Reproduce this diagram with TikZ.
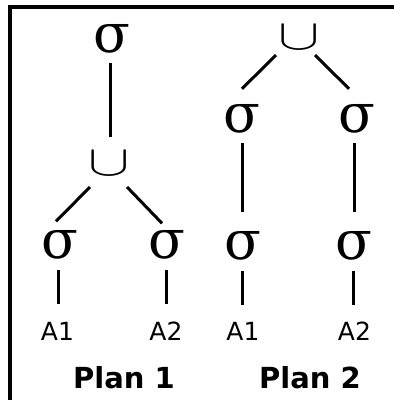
\documentclass[tikz,border=0pt]{standalone}
\usepackage{fontspec}
\usepackage{graphicx}
\setmainfont{DejaVu Sans}
\newfontfamily\symfont{DejaVu Serif}
\usetikzlibrary{calc}
\begin{document}
\begin{tikzpicture}[x=1pt,y=-1pt,
  op/.style={inner sep=0pt, font=\symfont\fontsize{54}{54}\selectfont, text height=28pt, text depth=0pt},
  cupop/.style={inner sep=0pt},
  rel/.style={inner sep=0pt, font=\fontsize{25}{25}\selectfont, text height=18.2pt, text depth=0pt},
  title/.style={inner sep=0pt, font=\bfseries\fontsize{29}{29}\selectfont, text height=21.1pt, text depth=0pt},
  link/.style={line width=3pt},
  frame/.style={line width=3.5pt}]
\useasboundingbox (0,0) rectangle (394,400);
\fill[white] (0,0) rectangle (394,400);
\draw[frame] (10,402) -- (10,7) -- (396,7);
% Plan 1
\node[op] (p1s0) at (112,38) {σ};
\node[cupop] (p1u) at (109,164) {\scalebox{6.2}[4.3]{$\cup$}};
\node[op] (p1sl) at (60,244) {σ};
\node[op] (p1sr) at (166.5,244) {σ};
\node[rel] (p1a1) at (57.5,331.5) {A1};
\node[rel] (p1a2) at (166,331.5) {A2};
\node[title] (p1t) at (124,378) {Plan 1};
\draw[link] ([shift={(-2,11)}]p1s0.south) -- ([shift={(1,-27)}]p1u.center);
\draw[link] ([shift={(-19,23)}]p1u.center) -- ([shift={(-4,-8.5)}]p1sl.north);
\draw[link] ([shift={(18,23)}]p1u.center) -- ([shift={(-4.5,-6.5)}]p1sr.north);
\draw[link] ([shift={(-2,12)}]p1sl.south) -- ([shift={(0.5,-18)}]p1a1.north);
\draw[link] ([shift={(-0.5,12)}]p1sr.south) -- ([shift={(0,-18)}]p1a2.north);
% Plan 2
\node[cupop] (p2u) at (299.5,38) {\scalebox{6.2}[4.3]{$\cup$}};
\node[op] (p2sl) at (242,118) {σ};
\node[op] (p2sr) at (357,118) {σ};
\node[op] (p2bl) at (243,245) {σ};
\node[op] (p2br) at (354,245) {σ};
\node[rel] (p2a1) at (243,331.5) {A1};
\node[rel] (p2a2) at (354.5,331.5) {A2};
\node[title] (p2t) at (310,378) {Plan 2};
\draw[link] ([shift={(-23.5,17)}]p2u.center) -- ([shift={(0,-15)}]p2sl.north);
\draw[link] ([shift={(15.5,17)}]p2u.center) -- ([shift={(-8,-15)}]p2sr.north);
\draw[link] ([shift={(0,11)}]p2sl.south) -- ([shift={(-1,-19)}]p2bl.north);
\draw[link] ([shift={(-3,11)}]p2sr.south) -- ([shift={(0,-19)}]p2br.north);
\draw[link] ([shift={(-1,12)}]p2bl.south) -- ([shift={(-1,-17)}]p2a1.north);
\draw[link] ([shift={(-1,12)}]p2br.south) -- ([shift={(-1.5,-17)}]p2a2.north);
\end{tikzpicture}
\end{document}
